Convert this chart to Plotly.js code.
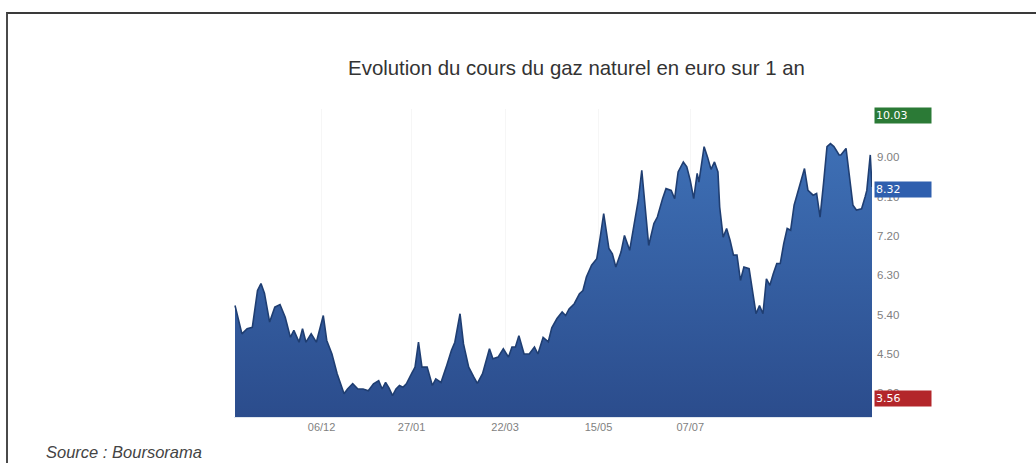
<!DOCTYPE html>
<html>
<head>
<meta charset="utf-8">
<script src="https://cdn.plot.ly/plotly-3.0.1.min.js"></script>
<style>
  html, body { margin: 0; padding: 0; background: #ffffff; }
  #wrap { position: relative; width: 1036px; height: 463px; overflow: hidden; }
  #frame { position: absolute; left: 6px; top: 12px; width: 1040px; height: 460px;
           border-top: 2px solid #3a3a3a; border-left: 2px solid #4a4a4a; pointer-events: none; }
  #chart { position: absolute; left: 0; top: 0; width: 1036px; height: 463px; }
</style>
</head>
<body>
<div id="wrap">
  <div id="chart"></div>
  <div id="frame"></div>
</div>
<script>
// ---- Data ----
const dates = [
  "2016-10-17","2016-10-21","2016-10-24","2016-10-27","2016-10-30","2016-11-01","2016-11-03","2016-11-06",
  "2016-11-09","2016-11-12","2016-11-15","2016-11-18","2016-11-20","2016-11-23","2016-11-25","2016-11-27",
  "2016-11-30","2016-12-03","2016-12-07","2016-12-09","2016-12-12","2016-12-15","2016-12-19","2016-12-21",
  "2016-12-24","2016-12-27","2016-12-30","2017-01-02","2017-01-05","2017-01-08","2017-01-10","2017-01-12",
  "2017-01-14","2017-01-16","2017-01-18","2017-01-20","2017-01-22","2017-01-24","2017-01-27","2017-01-29",
  "2017-01-31","2017-02-02","2017-02-05","2017-02-08","2017-02-10","2017-02-13","2017-02-16","2017-02-19",
  "2017-02-21","2017-02-24","2017-02-26","2017-03-01","2017-03-04","2017-03-06","2017-03-09","2017-03-13",
  "2017-03-15","2017-03-18","2017-03-21","2017-03-24","2017-03-26","2017-03-28","2017-03-30","2017-04-02",
  "2017-04-05","2017-04-08","2017-04-10","2017-04-13","2017-04-16","2017-04-18","2017-04-21","2017-04-24",
  "2017-04-26","2017-04-28","2017-05-01","2017-05-04","2017-05-06","2017-05-08","2017-05-11","2017-05-14",
  "2017-05-16","2017-05-18","2017-05-21","2017-05-23","2017-05-25","2017-05-28","2017-05-30","2017-06-02",
  "2017-06-04","2017-06-07","2017-06-09","2017-06-11","2017-06-13","2017-06-16","2017-06-18","2017-06-21",
  "2017-06-23","2017-06-26","2017-06-28","2017-06-30","2017-07-03","2017-07-05","2017-07-07","2017-07-09",
  "2017-07-11","2017-07-12","2017-07-15","2017-07-17","2017-07-19","2017-07-21","2017-07-23","2017-07-24",
  "2017-07-26","2017-07-28","2017-07-30","2017-08-01","2017-08-03","2017-08-05","2017-08-07","2017-08-10",
  "2017-08-12","2017-08-14","2017-08-16","2017-08-18","2017-08-20","2017-08-22","2017-08-24","2017-08-26",
  "2017-08-28","2017-08-30","2017-09-01","2017-09-03","2017-09-05","2017-09-08","2017-09-11","2017-09-13",
  "2017-09-16","2017-09-18","2017-09-20","2017-09-22","2017-09-24","2017-09-26","2017-09-28","2017-10-01",
  "2017-10-02","2017-10-05","2017-10-07","2017-10-09","2017-10-11","2017-10-14","2017-10-16","2017-10-17",
  "2017-10-19","2017-10-20"
];
const prices = [
  5.61,4.96,5.08,5.11,5.95,6.11,5.89,5.23,
  5.57,5.63,5.34,4.88,5.04,4.77,5.08,4.77,
  4.96,4.77,5.38,4.81,4.50,4.05,3.59,3.70,
  3.82,3.70,3.70,3.66,3.82,3.89,3.70,3.85,
  3.72,3.55,3.70,3.78,3.74,3.82,4.05,4.20,
  4.77,4.20,4.20,3.78,3.93,3.85,4.20,4.58,
  4.77,5.42,4.73,4.20,3.97,3.83,4.05,4.62,
  4.39,4.43,4.62,4.43,4.66,4.66,4.92,4.50,
  4.50,4.66,4.50,4.88,4.78,5.10,5.31,5.46,
  5.38,5.53,5.65,5.88,5.95,6.26,6.53,6.68,
  7.17,7.71,6.91,6.79,6.49,6.83,7.21,6.87,
  7.33,8.02,8.70,7.86,6.98,7.48,7.63,8.05,
  8.28,8.24,8.05,8.66,8.89,8.78,8.47,8.05,
  8.63,8.43,9.24,9.00,8.72,8.89,8.66,7.86,
  7.17,7.37,7.10,6.76,6.76,6.18,6.49,6.45,
  5.88,5.42,5.61,5.42,6.22,6.07,6.34,6.57,
  6.57,7.02,7.37,7.33,7.90,8.32,8.74,8.24,
  8.13,8.17,7.63,8.40,9.24,9.31,9.24,9.05,
  9.05,9.20,8.55,7.90,7.79,7.82,8.09,8.24,
  9.05,8.32
];
const tickDates = ["2016-12-06","2017-01-27","2017-03-22","2017-05-15","2017-07-07"];
const priceTicks = [3.60, 4.50, 5.40, 6.30, 7.20, 8.10, 9.00];
const markerLabels = ["10.03", "8.32", "3.56"];   // plus haut, dernier, plus bas
const markerValues = [10.03, 8.32, 3.56];
const markerColors = ["#2b7a36", "#2f5fae", "#b3262a"];
const titleText = "Evolution du cours du gaz naturel en euro sur 1 an";
const sourceText = "Source : Boursorama";

// ---- Chart ----
const trace = {
  x: dates,
  y: prices,
  type: "scatter",
  mode: "lines",
  line: { color: "#1f3e72", width: 1.6, shape: "linear" },
  fill: "tozeroy",
  fillgradient: {
    type: "vertical",
    start: 3.0,
    stop: 9.4,
    colorscale: [[0, "#2b4c8c"], [1, "#3e70b6"]]
  },
  hoverinfo: "x+y"
};

const annotations = markerLabels.map((t, i) => ({
  xref: "paper", yref: "y",
  x: 1, y: markerValues[i],
  xanchor: "left", yanchor: "middle",
  xshift: 2, yshift: -3,
  text: t,
  showarrow: false,
  align: "left",
  width: 54, height: 13,
  borderpad: 1,
  bgcolor: markerColors[i],
  font: { family: "DejaVu Sans, Arial, sans-serif", size: 11, color: "#ffffff" }
}));

annotations.push({
  xref: "paper", yref: "paper",
  x: -0.298, y: -0.115,
  xanchor: "left", yanchor: "middle",
  text: sourceText,
  showarrow: false,
  font: { family: "Liberation Sans, Arial, sans-serif", size: 16.5, color: "#444444", style: "italic" }
});

const layout = {
  width: 1036,
  height: 463,
  paper_bgcolor: "#ffffff",
  plot_bgcolor: "#ffffff",
  margin: { l: 234, r: 164, t: 109, b: 46 },
  showlegend: false,
  title: {
    text: titleText,
    xref: "container", yref: "container",
    x: 0.5565, y: 0.853,
    xanchor: "center", yanchor: "middle",
    font: { family: "Liberation Sans, Arial, sans-serif", size: 20.4, color: "#333333" }
  },
  xaxis: {
    type: "date",
    range: ["2016-10-16 10:00", "2017-10-20"],
    tickvals: tickDates,
    tickformat: "%d/%m",
    tickfont: { family: "Liberation Sans, Arial, sans-serif", size: 11, color: "#7f7f7f" },
    ticks: "",
    showgrid: true,
    gridcolor: "#f6f6f6",
    gridwidth: 1,
    showline: true,
    linecolor: "#dfe6ee",
    linewidth: 1,
    zeroline: false,
    fixedrange: true
  },
  yaxis: {
    side: "right",
    range: [3.06, 10.10],
    tickvals: priceTicks,
    tickformat: ".2f",
    tickfont: { family: "Liberation Sans, Arial, sans-serif", size: 11.5, color: "#808080" },
    ticks: "",
    ticklabelstandoff: 4,
    showgrid: false,
    zeroline: false,
    showline: false,
    fixedrange: true
  },
  annotations: annotations
};

Plotly.newPlot("chart", [trace], layout, { displayModeBar: false, staticPlot: true });
</script>
</body>
</html>
